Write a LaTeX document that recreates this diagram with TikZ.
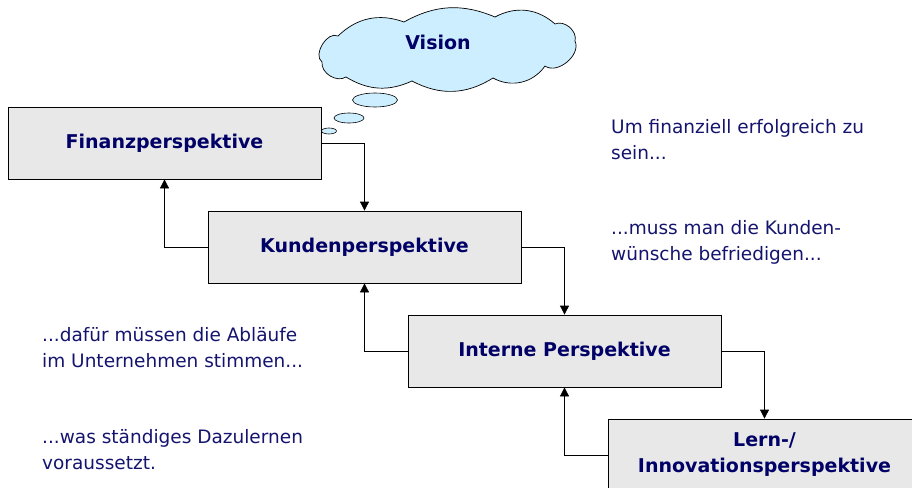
\documentclass[tikz,border=0pt]{standalone}
\usepackage{fontspec}
\setmainfont{DejaVu Sans}
\usetikzlibrary{shapes.geometric,arrows.meta}
\definecolor{navy}{HTML}{000066}
\definecolor{notecol}{HTML}{14146E}
\definecolor{boxgray}{HTML}{E8E8E8}
\definecolor{cloudblue}{HTML}{CCEEFF}
\begin{document}
\begin{tikzpicture}[x=1pt,y=-1pt,
  persp/.style={draw=black, fill=boxgray, line width=0.8pt, minimum width=313pt, minimum height=72pt, inner sep=0pt, font=\fontsize{19}{26}\selectfont\bfseries, text=navy, align=center},
  conn/.style={draw=black, line width=0.8pt, -{Triangle[length=9pt,width=9pt]}},
  note/.style={anchor=north west, inner sep=0pt, font=\fontsize{18.5}{26}\selectfont, text=notecol, align=left},
  bubble/.style={draw=black, fill=cloudblue, line width=0.6pt, ellipse, inner sep=0pt},
  cloudline/.style={draw=black, fill=cloudblue, line width=0.7pt}
]
\useasboundingbox (0,0) rectangle (912,487);
\clip (0,0) rectangle (912,487);

% cloud and thought bubbles
\draw[cloudline] (338,36) to[bend left=32] (404,22) to[bend left=26] (495,17)
  to[bend left=35] (555,24) to[bend left=65] (575,41) to[bend left=75] (545,66)
  to[bend left=42] (493,78) to[bend left=30] (412,81) to[bend left=28] (346,77)
  to[bend left=65] (322,62) to[bend left=85] cycle;
\node[font=\fontsize{19}{24}\selectfont\bfseries, text=navy, inner sep=0pt] (vision) at (438,42) {Vision};
\node[bubble, minimum width=45pt, minimum height=14pt] (b1) at (375,100) {};
\node[bubble, minimum width=30pt, minimum height=10pt] (b2) at (349,118) {};
\node[bubble, minimum width=15pt, minimum height=6pt] (b3) at (329,131) {};

% perspective boxes
\node[persp] (fin) at (164.5,143) {Finanzperspektive};
\node[persp] (kun) at (364.5,247) {Kundenperspektive};
\node[persp] (int) at (564.5,351) {Interne Perspektive};
\node[persp] (lern) at (764.5,455) {Lern-/\\Innovationsperspektive};

% connectors
\draw[conn] (fin.east) -| (kun.north);
\draw[conn] (kun.west) -| (fin.south);
\draw[conn] (kun.east) -| (int.north);
\draw[conn] (int.west) -| (kun.south);
\draw[conn] (int.east) -| (lern.north);
\draw[conn] (lern.west) -| (int.south);

% notes
\node[note] (n1) at (611,119) {Um finanziell erfolgreich zu\\sein...};
\node[note] (n2) at (611,220) {...muss man die Kunden-\\wünsche befriedigen...};
\node[note] (n3) at (42,327) {...dafür müssen die Abläufe\\im Unternehmen stimmen...};
\node[note] (n4) at (42,429) {...was ständiges Dazulernen\\voraussetzt.};
\end{tikzpicture}
\end{document}
